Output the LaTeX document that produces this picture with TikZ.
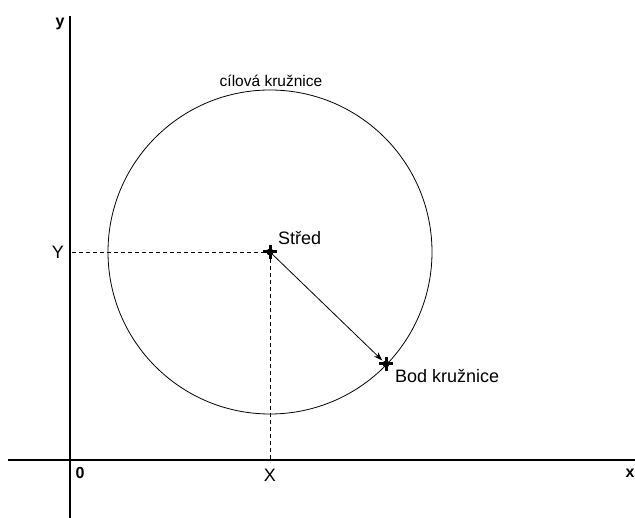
\documentclass[tikz,border=0pt]{standalone}
\usepackage{fontspec}
\setmainfont{Liberation Sans}
\usetikzlibrary{arrows.meta}

\tikzset{
  osa/.style={line width=2pt},
  pomocna/.style={line width=0.6pt, dash pattern=on 4pt off 3pt},
  krizek/.style={line width=3pt},
  popis/.style={font=\fontsize{18}{21}\selectfont, inner sep=0pt},
  tucny/.style={font=\fontsize{16}{19}\selectfont\bfseries, inner sep=0pt},
}

\begin{document}
\begin{tikzpicture}[x=1pt, y=-1pt]
\useasboundingbox (0,0) rectangle (635,518);
% osy
\coordinate (xzac) at (8,460);
\coordinate (xkon) at (635,460);
\coordinate (yzac) at (70,518);
\coordinate (ykon) at (70,16);
\draw [osa] (xzac) -- (xkon);
\draw [osa] (yzac) -- (ykon);
\node [tucny] (ypopis) at (60,24) {y};
\node [tucny] (xpopis) at (630,473) {x};
\node [tucny] (nula) at (80,473) {0};
% kruznice
\coordinate (stred) at (270,252);
\coordinate (bod) at (386,364);
\draw [line width=0.8pt] (stred) circle [radius=162];
\node [font=\fontsize{15.5}{18}\selectfont, inner sep=0pt] (cilova) at (271,81) {cílová kružnice};
% pomocne cary
\coordinate (ypaty) at (72,252);
\coordinate (xpaty) at (270,462);
\draw [pomocna] (ypaty) -- (stred);
\draw [pomocna] (stred) -- (xpaty);
\node [popis] (ylab) at (58,252) {Y};
\node [popis] (xlab) at (270,475) {X};
% polomer
\draw [line width=0.8pt, -{Stealth[length=9pt, width=6pt]}, shorten >=5pt] (stred) -- (bod);
\draw [krizek] (stred) +(-7,0) -- +(7,0) (stred) +(0,-7) -- +(0,7);
\draw [krizek] (bod) +(-7,0) -- +(7,0) (bod) +(0,-7) -- +(0,7);
\fill (stred) circle [radius=3.5];
\fill (bod) circle [radius=3.5];
\node [popis, anchor=base west] (stredlab) at (278,245) {Střed};
\node [popis, anchor=base west] (bodlab) at (395,383) {Bod kružnice};
\end{tikzpicture}
\end{document}
